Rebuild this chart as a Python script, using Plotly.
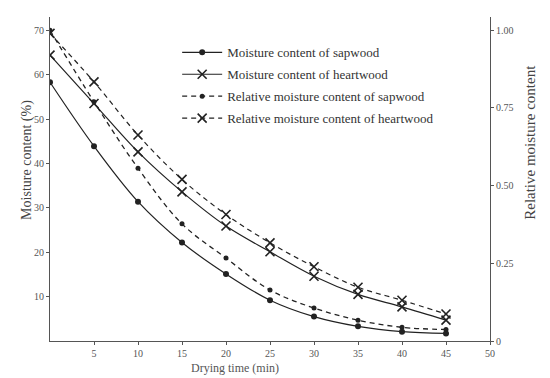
import plotly.graph_objects as go

time_min = [0, 5, 10, 15, 20, 25, 30, 35, 40, 45]
mc_sapwood = [58.3, 43.9, 31.4, 22.2, 15.1, 9.2, 5.5, 3.3, 2.1, 1.7]
mc_heartwood = [64.4, 53.5, 42.6, 33.6, 25.9, 20.1, 14.6, 10.5, 7.7, 4.7]
rel_sapwood = [1.0, 0.77, 0.556, 0.377, 0.267, 0.164, 0.106, 0.067, 0.044, 0.037]
rel_heartwood = [0.99, 0.834, 0.663, 0.52, 0.407, 0.316, 0.239, 0.173, 0.131, 0.087]

x_ticks = [5, 10, 15, 20, 25, 30, 35, 40, 45, 50]
left_ticks = [10, 20, 30, 40, 50, 60, 70]
right_ticks = [0, 0.25, 0.50, 0.75, 1.00]
right_tick_text = ["0", "0.25", "0.50", "0.75", "1.00"]

names = ["Moisture content of sapwood", "Moisture content of heartwood",
         "Relative moisture content of sapwood", "Relative moisture content of heartwood"]

FONT = "Liberation Serif, DejaVu Serif, serif"
INK = "#222222"

fig = go.Figure()
fig.add_trace(go.Scatter(x=time_min, y=mc_sapwood, name=names[0], legendgroup="a",
                         mode="lines+markers", line=dict(color=INK, width=1.2, shape="spline"),
                         marker=dict(symbol="circle", size=6, color=INK)))
fig.add_trace(go.Scatter(x=time_min, y=mc_heartwood, name=names[1], legendgroup="b",
                         mode="lines+markers", line=dict(color=INK, width=1.2, shape="spline"),
                         marker=dict(symbol="x-thin", size=9, line=dict(color=INK, width=1.6))))
fig.add_trace(go.Scatter(x=time_min, y=rel_sapwood, name=names[2], legendgroup="c", yaxis="y2",
                         mode="lines+markers", line=dict(color=INK, width=1.3, dash="5px,4px", shape="spline"),
                         marker=dict(symbol="circle", size=5, color=INK)))
fig.add_trace(go.Scatter(x=time_min, y=rel_heartwood, name=names[3], legendgroup="d", yaxis="y2",
                         mode="lines+markers", line=dict(color=INK, width=1.2, dash="5px,4px", shape="spline"),
                         marker=dict(symbol="x-thin", size=9, line=dict(color=INK, width=1.6))))

axis_common = dict(showgrid=False, zeroline=False, showline=True, linecolor="#555555", linewidth=1,
                   tickfont=dict(family=FONT, size=10, color="#555555"), ticks="outside",
                   ticklen=3, tickcolor="#555555")

# the page body has an 8px default margin, so the figure is sized to fit inside the window
fig.update_layout(
    width=542, height=370,
    margin=dict(l=42, r=60, t=9, b=37),
    paper_bgcolor="white", plot_bgcolor="white",
    font=dict(family=FONT, color="#333333"),
    xaxis=dict(range=[0, 50], tickvals=x_ticks, **axis_common),
    yaxis=dict(range=[0, 73], tickvals=left_ticks, **axis_common),
    yaxis2=dict(range=[0, 73 / 70], tickvals=right_ticks, ticktext=right_tick_text,
                overlaying="y", side="right", **axis_common),
    showlegend=True,
    legend=dict(x=0.289, y=0.937, xanchor="left", yanchor="top", bgcolor="rgba(0,0,0,0)",
                font=dict(family=FONT, size=13, color="#333333"), tracegroupgap=2,
                itemwidth=40),
    annotations=[
        dict(text="Moisture content (%)", xref="paper", yref="paper", x=-0.075, y=0.559,
             textangle=-90, showarrow=False, font=dict(family=FONT, size=14, color="#444444")),
        dict(text="Drying time (min)", xref="paper", yref="paper", x=0.42, y=-0.112,
             yanchor="bottom", showarrow=False, font=dict(family=FONT, size=12, color="#555555")),
        dict(text="Relative moisture content", xref="paper", yref="paper", x=1.113, y=0.614,
             textangle=-90, showarrow=False, font=dict(family=FONT, size=15, color="#444444")),
    ],
)

fig.write_html("out.html")
